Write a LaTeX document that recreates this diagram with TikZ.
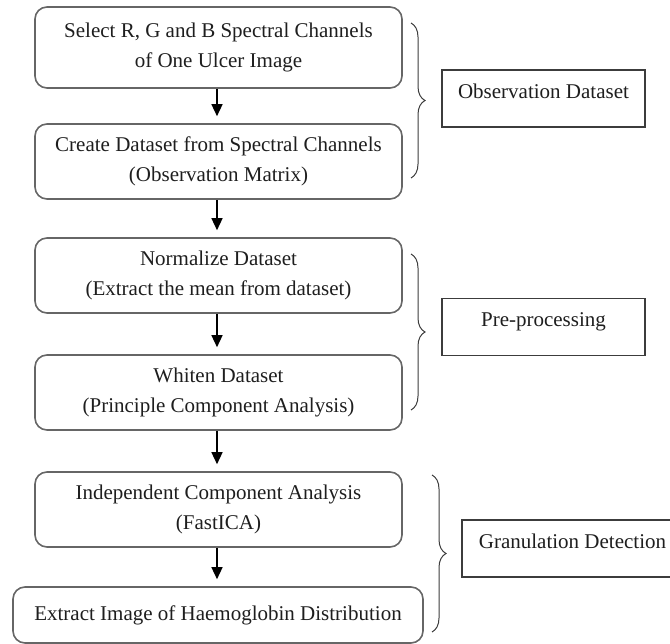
\documentclass[tikz,border=0pt]{standalone}
\usepackage{fontspec}
\setmainfont{Liberation Serif}
\usetikzlibrary{arrows.meta,decorations.pathreplacing}

\definecolor{boxgray}{HTML}{666666}
\definecolor{sidegray}{HTML}{3C3C3C}
\definecolor{inkgray}{HTML}{1E1E1E}

\begin{document}
\begin{tikzpicture}[x=1pt,y=-1pt,
  stepbox/.style={draw=boxgray, line width=1.6pt, rounded corners=12pt,
    align=center, inner sep=0pt, text=inkgray,
    font=\fontsize{21}{30}\selectfont, minimum width=367pt, minimum height=75pt},
  sidebox/.style={draw=sidegray, line width=1.3pt, inner sep=0pt, text=inkgray,
    font=\fontsize{21}{30}\selectfont, minimum width=203pt, minimum height=57pt,
    text height=14pt, text depth=14pt},
  flow/.style={draw=black, line width=1.4pt, shorten >=7pt,
    -{Triangle[length=12pt,width=11pt]}},
  groupbrace/.style={draw=sidegray, line width=1pt,
    decorate, decoration={brace, amplitude=14pt}}]

% page frame
\clip (0,0) rectangle (670,644);

% processing steps
\node[stepbox, minimum height=81pt] (sel) at (218.5,47.5)
  {Select R, G and B Spectral Channels\\of One Ulcer Image};
\node[stepbox] (obs) at (218.5,161.5)
  {Create Dataset from Spectral Channels\\(Observation Matrix)};
\node[stepbox] (norm) at (218.5,275.5)
  {Normalize Dataset\\(Extract the mean from dataset)};
\node[stepbox] (white) at (218.5,392.5)
  {Whiten Dataset\\(Principle Component Analysis)};
\node[stepbox] (ica) at (218.5,509.5)
  {Independent Component Analysis\\(FastICA)};
\node[stepbox, minimum width=410pt, minimum height=56pt] (hb) at (218,615)
  {Extract Image of Haemoglobin Distribution};

% flow between steps
\draw[flow] (sel.south -| 217,0) -- (obs.north -| 217,0);
\draw[flow] (obs.south -| 217,0) -- (norm.north -| 217,0);
\draw[flow] (norm.south -| 217,0) -- (white.north -| 217,0);
\draw[flow] (white.south -| 217,0) -- (ica.north -| 217,0);
\draw[flow] (ica.south -| 217,0) -- (hb.north -| 217,0);

% stage braces
\coordinate (b1t) at (411,23);  \coordinate (b1b) at (411,178);
\coordinate (b2t) at (411,254); \coordinate (b2b) at (411,410);
\coordinate (b3t) at (432,475); \coordinate (b3b) at (432,632);
\draw[groupbrace] (b1t) -- (b1b);
\draw[groupbrace] (b2t) -- (b2b);
\draw[groupbrace] (b3t) -- (b3b);

% stage labels
\node[sidebox] (stage1) at (543.5,98.5) {Observation Dataset};
\node[sidebox] (stage2) at (543.5,327) {Pre-processing};
\node[sidebox, minimum width=221pt] (stage3) at (572.5,548.5) {Granulation Detection};
\end{tikzpicture}
\end{document}
